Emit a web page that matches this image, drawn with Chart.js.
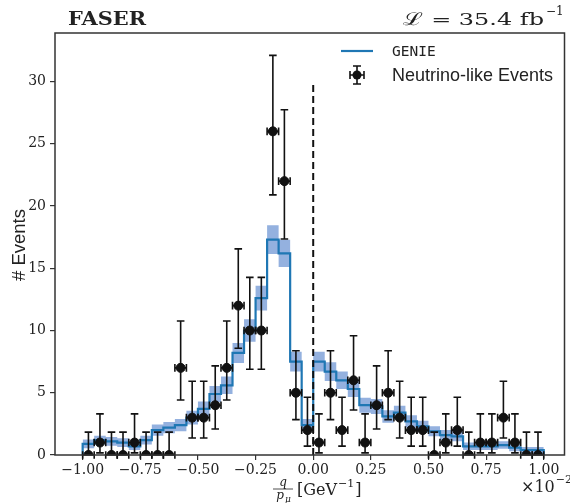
<!DOCTYPE html>
<html>
<head>
<meta charset="utf-8">
<script src="https://cdn.jsdelivr.net/npm/chart.js@4.4.1/dist/chart.umd.min.js"></script>
<style>
  html, body { margin: 0; padding: 0; background: #fff; }
  #wrap { width: 570px; height: 503px; }
</style>
</head>
<body>
<div id="wrap"><canvas id="chart" width="570" height="503"></canvas></div>
<script>
// bin edges of q/p_mu in units of 1e-2 GeV^-1
const binEdges = [-1.00, -0.95, -0.90, -0.85, -0.80, -0.75, -0.70, -0.65, -0.60, -0.55,
                  -0.50, -0.45, -0.40, -0.35, -0.30, -0.25, -0.20, -0.15, -0.10, -0.05,
                   0.00,  0.05,  0.10,  0.15,  0.20,  0.25,  0.30,  0.35,  0.40,  0.45,
                   0.50,  0.55,  0.60,  0.65,  0.70,  0.75,  0.80,  0.85,  0.90,  0.95, 1.00];

// GENIE prediction per bin and its uncertainty band
const genie = [0.6, 0.9, 1.2, 1.1, 1.0, 0.7, 1.2, 2.0, 2.2, 2.4,
               3.0, 3.7, 4.9, 5.6, 8.2, 10.0, 12.6, 17.3, 16.2, 7.5,
               2.4, 7.5, 6.7, 6.0, 5.3, 4.0, 3.9, 3.1, 3.4, 2.7,
               2.3, 1.9, 1.6, 1.5, 0.7, 0.7, 0.7, 0.8, 0.6, 0.4];
const genieErr = [0.3, 0.35, 0.35, 0.35, 0.35, 0.3, 0.35, 0.45, 0.45, 0.5,
                  0.55, 0.6, 0.65, 0.7, 0.8, 0.9, 1.0, 1.15, 1.1, 0.8,
                  0.5, 0.8, 0.75, 0.7, 0.65, 0.6, 0.6, 0.5, 0.55, 0.5,
                  0.45, 0.4, 0.4, 0.4, 0.3, 0.3, 0.3, 0.3, 0.3, 0.25];

// observed neutrino-like events and their error bar ends
const events = [0, 1, 0, 0, 1, 0, 0, 0, 7, 3,
                3, 4, 7, 12, 10, 10, 26, 22, 5, 2,
                1, 5, 2, 6, 1, 4, 5, 3, 2, 2,
                0, 1, 2, 0, 1, 1, 3, 1, 0, 0];
const eventsLo = [0, 0.17, 0, 0, 0.17, 0, 0, 0, 4.42, 1.37,
                  1.37, 2.09, 4.42, 8.58, 6.89, 6.89, 20.9, 17.35, 2.84, 0.71,
                  0.17, 2.84, 0.71, 3.62, 0.17, 2.09, 2.84, 1.37, 0.71, 0.71,
                  0, 0.17, 0.71, 0, 0.17, 0.17, 1.37, 0.17, 0, 0];
const eventsHi = [1.84, 3.3, 1.84, 1.84, 3.3, 1.84, 1.84, 1.84, 10.77, 5.92,
                  5.92, 7.16, 10.77, 16.56, 14.27, 14.27, 32.1, 27.73, 8.38, 4.64,
                  3.3, 8.38, 4.64, 9.58, 3.3, 7.16, 8.38, 5.92, 4.64, 4.64,
                  1.84, 3.3, 4.64, 1.84, 3.3, 3.3, 5.92, 3.3, 1.84, 1.84];

const xTicks = [-1.00, -0.75, -0.50, -0.25, 0.00, 0.25, 0.50, 0.75, 1.00];
const yTicks = [0, 5, 10, 15, 20, 25, 30];
const cutX = 0;
const cutTop = 30;

const binCenters = genie.map((_, i) => (binEdges[i] + binEdges[i + 1]) / 2);

function stepPoints(vals) {
  const pts = [{ x: binEdges[0], y: 0 }];
  vals.forEach((v, i) => pts.push({ x: binEdges[i], y: v }));
  pts.push({ x: binEdges[binEdges.length - 1], y: vals[vals.length - 1] });
  pts.push({ x: binEdges[binEdges.length - 1], y: 0 });
  return pts;
}
function bandPoints(vals) {
  const pts = vals.map((v, i) => ({ x: binEdges[i], y: v }));
  pts.push({ x: binEdges[binEdges.length - 1], y: vals[vals.length - 1] });
  return pts;
}

const SERIF = '"DejaVu Serif", "Liberation Serif", serif';
const SANS = '"Liberation Sans", Arial, sans-serif';
const INK = '#222';

// choose a font size so that text spans the wanted width
function fitFont(ctx, text, style, family, width) {
  ctx.font = style + '20px ' + family;
  const size = 20 * width / ctx.measureText(text).width;
  ctx.font = style + size.toFixed(2) + 'px ' + family;
  return size;
}

// draw text at a fixed font, stretched sideways to a wanted width
function stretchText(ctx, text, font, x, y, width) {
  ctx.save();
  ctx.font = font;
  const w = ctx.measureText(text).width;
  ctx.translate(x, y);
  ctx.scale(width / w, 1);
  ctx.fillText(text, 0, 0);
  ctx.restore();
}

// error bars drawn right before the event markers
const errorBars = {
  id: 'errorBars',
  beforeDatasetDraw(chart, args) {
    if (chart.data.datasets[args.index].label !== 'Neutrino-like Events') return;
    const { ctx, scales: { x, y } } = chart;
    const cap = 3.8;
    ctx.save();
    ctx.strokeStyle = '#111';
    ctx.lineWidth = 1.6;
    events.forEach((n, i) => {
      const cx = x.getPixelForValue(binCenters[i]);
      const cy = y.getPixelForValue(n);
      const xl = x.getPixelForValue(binEdges[i]);
      const xr = x.getPixelForValue(binEdges[i + 1]);
      const yl = y.getPixelForValue(eventsLo[i]);
      const yh = y.getPixelForValue(eventsHi[i]);
      ctx.beginPath();
      ctx.moveTo(cx, yl); ctx.lineTo(cx, yh);
      ctx.moveTo(cx - cap, yl); ctx.lineTo(cx + cap, yl);
      ctx.moveTo(cx - cap, yh); ctx.lineTo(cx + cap, yh);
      ctx.moveTo(xl, cy); ctx.lineTo(xr, cy);
      ctx.moveTo(xl, cy - cap); ctx.lineTo(xl, cy + cap);
      ctx.moveTo(xr, cy - cap); ctx.lineTo(xr, cy + cap);
      ctx.stroke();
    });
    ctx.restore();
  }
};

// frame, legend, titles and axis labels
const decorations = {
  id: 'decorations',
  afterDraw(chart) {
    const { ctx, chartArea: a } = chart;
    ctx.save();
    ctx.strokeStyle = '#333';
    ctx.lineWidth = 1.5;
    ctx.strokeRect(a.left, a.top, a.right - a.left, a.bottom - a.top);

    // legend
    ctx.strokeStyle = '#1f77b4';
    ctx.lineWidth = 2.2;
    ctx.beginPath(); ctx.moveTo(341, 51); ctx.lineTo(373, 51); ctx.stroke();
    ctx.fillStyle = INK;
    ctx.textBaseline = 'middle';
    ctx.font = '14.5px "DejaVu Sans Mono", monospace';
    ctx.fillText('GENIE', 392, 52);
    ctx.strokeStyle = '#111';
    ctx.lineWidth = 1.6;
    ctx.beginPath();
    ctx.moveTo(357, 66); ctx.lineTo(357, 84);
    ctx.moveTo(353, 66); ctx.lineTo(361, 66);
    ctx.moveTo(353, 84); ctx.lineTo(361, 84);
    ctx.moveTo(350, 75); ctx.lineTo(364, 75);
    ctx.moveTo(350, 71); ctx.lineTo(350, 79);
    ctx.moveTo(364, 71); ctx.lineTo(364, 79);
    ctx.stroke();
    ctx.fillStyle = '#111';
    ctx.beginPath(); ctx.arc(357, 75, 4.5, 0, Math.PI * 2); ctx.fill();
    ctx.fillStyle = INK;
    fitFont(ctx, 'Neutrino-like Events', '', SANS, 161);
    ctx.fillText('Neutrino-like Events', 392, 76);

    // titles
    ctx.textBaseline = 'alphabetic';
    stretchText(ctx, 'FASER', 'bold 18px ' + SERIF, 68, 25, 78);
    stretchText(ctx, 'ℒ = 35.4 fb', '17.5px ' + SERIF, 403, 25, 141);
    ctx.font = '12px ' + SERIF;
    ctx.fillText('−1', 546, 15);

    // y axis title
    ctx.save();
    ctx.translate(25, 245);
    ctx.rotate(-Math.PI / 2);
    ctx.textAlign = 'center';
    fitFont(ctx, '# Events', '', SANS, 72);
    ctx.fillText('# Events', 0, 0);
    ctx.restore();

    // x axis title: q / p_mu [GeV^-1]
    ctx.textAlign = 'center';
    ctx.font = 'italic 12px ' + SERIF;
    ctx.fillText('q', 283, 486);
    ctx.strokeStyle = INK;
    ctx.lineWidth = 0.8;
    ctx.beginPath(); ctx.moveTo(273, 489); ctx.lineTo(293, 489); ctx.stroke();
    ctx.font = 'italic 12px ' + SERIF;
    ctx.fillText('p', 280, 499);
    ctx.font = 'italic 9px ' + SERIF;
    ctx.fillText('μ', 288, 502);
    ctx.textAlign = 'left';
    ctx.font = '16px ' + SERIF;
    const gev = '[GeV';
    ctx.fillText(gev, 297, 495);
    const gw = ctx.measureText(gev).width;
    ctx.font = '11px ' + SERIF;
    ctx.fillText('−1', 297 + gw + 1, 487);
    const sw = ctx.measureText('−1').width;
    ctx.font = '16px ' + SERIF;
    ctx.fillText(']', 297 + gw + sw + 2, 495);

    // offset text
    ctx.font = '16px ' + SERIF;
    ctx.fillText('×10', 521, 492);
    const tw = ctx.measureText('×10').width;
    ctx.font = '11px ' + SERIF;
    ctx.fillText('−2', 521 + tw + 1, 483);
    ctx.restore();
  }
};

const fmtX = v => (v < 0 ? '−' : '') + Math.abs(v).toFixed(2);

new Chart(document.getElementById('chart'), {
  type: 'line',
  data: {
    datasets: [
      {
        label: 'Neutrino-like Events',
        type: 'scatter',
        data: events.map((n, i) => ({ x: binCenters[i], y: n })),
        backgroundColor: '#111',
        borderColor: '#111',
        pointRadius: 4.5,
        pointHoverRadius: 4.5,
        showLine: false,
        order: 0
      },
      {
        label: 'cut',
        data: [{ x: cutX, y: 0 }, { x: cutX, y: cutTop }],
        borderColor: '#111',
        borderWidth: 2,
        borderDash: [7, 4],
        pointRadius: 0,
        fill: false,
        order: 1
      },
      {
        label: 'GENIE',
        data: stepPoints(genie),
        stepped: 'after',
        borderColor: '#1f77b4',
        borderWidth: 2.2,
        pointRadius: 0,
        fill: false,
        order: 2
      },
      {
        label: 'band high',
        data: bandPoints(genie.map((v, i) => v + genieErr[i])),
        stepped: 'after',
        borderWidth: 0,
        borderColor: 'rgba(0,0,0,0)',
        pointRadius: 0,
        fill: false,
        order: 3
      },
      {
        label: 'band low',
        data: bandPoints(genie.map((v, i) => v - genieErr[i])),
        stepped: 'after',
        borderWidth: 0,
        borderColor: 'rgba(0,0,0,0)',
        backgroundColor: 'rgba(70,120,200,0.58)',
        pointRadius: 0,
        fill: '-1',
        order: 4
      }
    ]
  },
  options: {
    responsive: false,
    animation: false,
    devicePixelRatio: 1,
    layout: { padding: { top: 33, right: 2, left: 0, bottom: 0 } },
    plugins: { legend: { display: false }, tooltip: { enabled: false } },
    scales: {
      x: {
        type: 'linear',
        min: -1.12,
        max: 1.09,
        afterBuildTicks: s => { s.ticks = xTicks.map(v => ({ value: v })); },
        afterFit: s => { s.height = 48; s.paddingLeft = 0; s.paddingRight = 0; },
        grid: { drawOnChartArea: false, drawTicks: true, tickLength: 5, color: '#333', lineWidth: 1.2 },
        border: { display: false },
        ticks: { callback: fmtX, color: INK, padding: 2, maxRotation: 0, autoSkip: false,
                 font: { family: SERIF, size: 14 } }
      },
      y: {
        type: 'linear',
        min: 0,
        max: 33.9,
        afterBuildTicks: s => { s.ticks = yTicks.map(v => ({ value: v })); },
        afterFit: s => { s.width = 55; },
        grid: { drawOnChartArea: false, drawTicks: true, tickLength: 5, color: '#333', lineWidth: 1.2 },
        border: { display: false },
        ticks: { color: INK, padding: 4, font: { family: SERIF, size: 14 } }
      }
    }
  },
  plugins: [errorBars, decorations]
});
</script>
</body>
</html>
